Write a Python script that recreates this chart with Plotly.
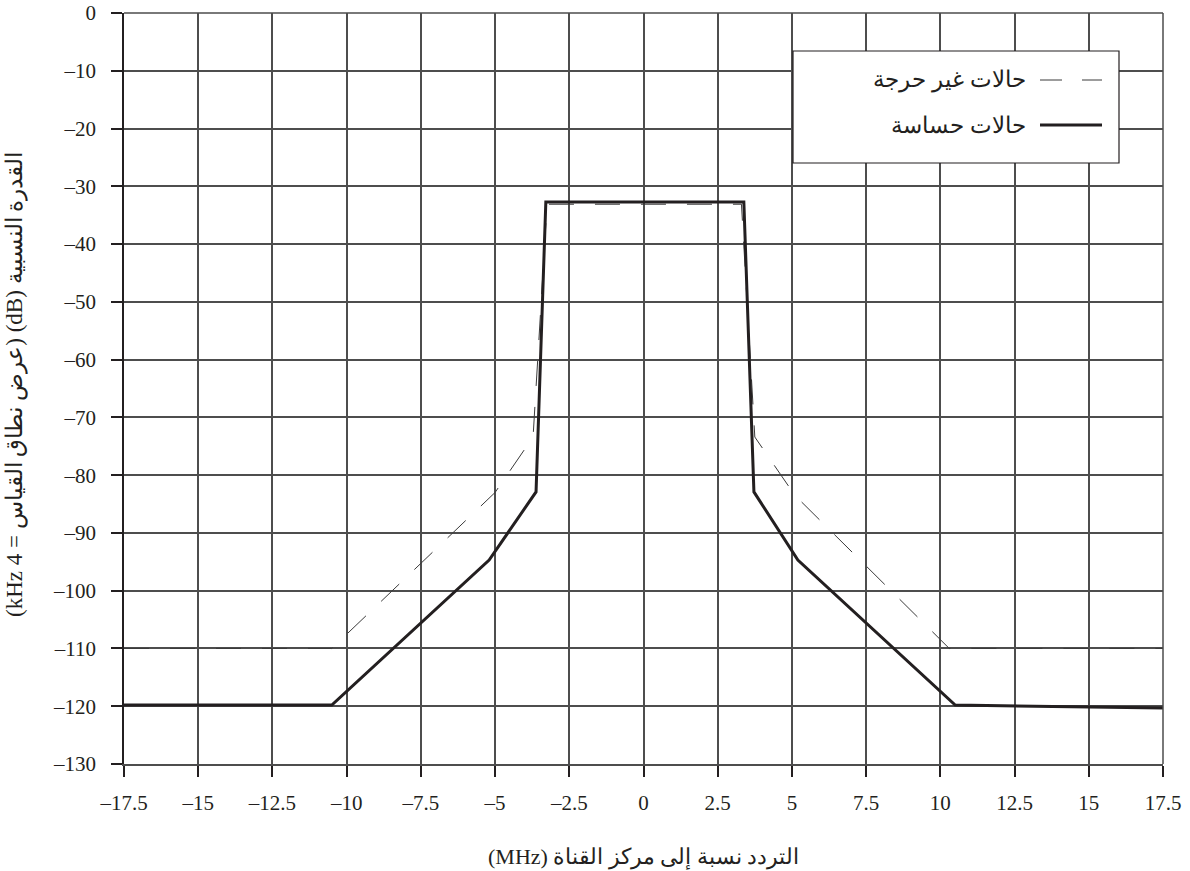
import plotly.graph_objects as go

# ---- data ----
sensitive_x = [-17.5, -10.5, -5.2, -3.62, -3.29, 3.38, 3.72, 5.2, 10.5, 17.5]
sensitive_y = [-119.8, -119.8, -94.7, -82.9, -32.7, -32.7, -82.9, -94.7, -119.8, -120.3]

noncritical_x = [-17.5, -10.5, -5.0, -3.72, -3.25, 3.3, 3.75, 5.1, 10.3, 17.5]
noncritical_y = [-110.0, -110.0, -83.0, -73.4, -33.1, -33.1, -73.4, -83.5, -110.0, -110.0]

x_ticks = [-17.5, -15, -12.5, -10, -7.5, -5, -2.5, 0, 2.5, 5, 7.5, 10, 12.5, 15, 17.5]
y_ticks = [0, -10, -20, -30, -40, -50, -60, -70, -80, -90, -100, -110, -120, -130]

label_noncritical = "حالات غير حرجة"
label_sensitive = "حالات حساسة"
x_title = "التردد نسبة إلى مركز القناة (MHz)"
y_title = "القدرة النسبية (dB) (عرض نطاق القياس = 4 kHz)"

def fmt(v):
    s = ("%g" % v)
    return s.replace("-", "\u2013")

FONT = "Liberation Serif, DejaVu Serif, serif"
LINE = "#231f20"
GRID = "#4d4d4d"

fig = go.Figure()
fig.add_trace(go.Scatter(x=noncritical_x, y=noncritical_y, mode="lines",
                         line=dict(color="#3a3a3a", width=1, dash="25px,21px"),
                         showlegend=False))
fig.add_trace(go.Scatter(x=sensitive_x, y=sensitive_y, mode="lines",
                         line=dict(color=LINE, width=3),
                         showlegend=False))

W, H = 1190, 871
L, R, T, B = 124, 1163, 13, 764

def px(xp):
    return (xp - L) / (R - L)

def py(yp):
    return 1 - (yp - T) / (B - T)

fig.update_layout(
    width=W, height=H,
    margin=dict(l=L, r=W - R, t=T, b=H - B, autoexpand=False),
    plot_bgcolor="white", paper_bgcolor="white",
    font=dict(family=FONT, size=21, color="#231f20"),
    showlegend=False,
    xaxis=dict(range=[-17.5, 17.5], tickvals=x_ticks, ticktext=[fmt(v) for v in x_ticks],
               showgrid=True, gridcolor=GRID, gridwidth=1.5,
               ticks="outside", ticklen=11, tickwidth=1.5, tickcolor="#231f20",
               showline=True, linecolor="#4d4d4d", linewidth=1.5,
               zeroline=False, ticklabelstandoff=8, automargin=False),
    yaxis=dict(range=[-130, 0], tickvals=y_ticks, ticktext=[fmt(v) for v in y_ticks],
               showgrid=True, gridcolor=GRID, gridwidth=1.5,
               ticks="outside", ticklen=11, tickwidth=1.5, tickcolor="#231f20",
               showline=True, linecolor="#231f20", linewidth=1.5,
               zeroline=False, ticklabelstandoff=11, automargin=False),
)

# frame lines on top and right (gridline-coloured)
fig.add_shape(type="line", xref="paper", yref="paper", x0=0, x1=1, y0=1, y1=1,
              line=dict(color=GRID, width=1.5))
fig.add_shape(type="line", xref="paper", yref="paper", x0=1, x1=1, y0=0, y1=1,
              line=dict(color=GRID, width=1.5))

# manual legend (symbols on the right, RTL)
fig.add_shape(type="rect", xref="paper", yref="paper",
              x0=px(793), x1=px(1119), y0=py(163), y1=py(51),
              fillcolor="white", line=dict(color="#231f20", width=1.2), layer="above")
fig.add_shape(type="line", xref="paper", yref="paper",
              x0=px(1040), x1=px(1102), y0=py(80), y1=py(80),
              line=dict(color="#3a3a3a", width=1, dash="22px,20px"), layer="above")
fig.add_shape(type="line", xref="paper", yref="paper",
              x0=px(1040), x1=px(1102), y0=py(125), y1=py(125),
              line=dict(color=LINE, width=3), layer="above")
fig.add_annotation(xref="paper", yref="paper", x=px(1028), y=py(80), xanchor="right",
                   yanchor="middle", text=label_noncritical, showarrow=False,
                   font=dict(size=23, family=FONT))
fig.add_annotation(xref="paper", yref="paper", x=px(1028), y=py(125), xanchor="right",
                   yanchor="middle", text=label_sensitive, showarrow=False,
                   font=dict(size=23, family=FONT))

# axis titles
fig.add_annotation(xref="paper", yref="paper", x=0.5, y=py(857), xanchor="center",
                   yanchor="middle", text="\u202b" + x_title + "\u202c", showarrow=False,
                   font=dict(size=22, family=FONT))
fig.add_annotation(xref="paper", yref="paper", x=px(15), y=py(385), xanchor="center",
                   yanchor="middle", text="\u202b" + y_title + "\u202c", showarrow=False,
                   textangle=-90, font=dict(size=23, family=FONT))

fig.write_html("out.html")
